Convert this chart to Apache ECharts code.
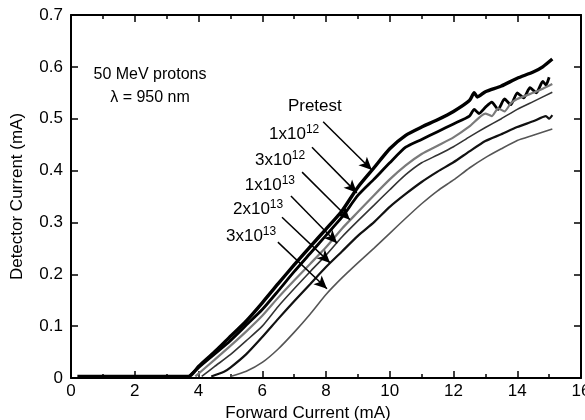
<!DOCTYPE html>
<html>
<head>
<meta charset="utf-8">
<script src="https://cdn.jsdelivr.net/npm/echarts@6/dist/echarts.min.js"></script>
<style>
html,body{margin:0;padding:0;background:#fff;}
#chart{width:585px;height:420px;}
</style>
</head>
<body>
<div id="chart"></div>
<script>
// curves: [forward current mA, detector current mA]
var pretest = [[0.2,0.003],[1,0.003],[2,0.003],[3,0.003],[3.7,0.003],[4.0,0.022],[4.5,0.05],[4.9,0.074],[5.5,0.11],[6.0,0.145],[6.5,0.182],[7.0,0.218],[7.5,0.253],[8.0,0.287],[8.5,0.322],[9.0,0.368],[9.5,0.405],[10.0,0.442],[10.5,0.468],[11.0,0.484],[11.5,0.498],[12.0,0.514],[12.5,0.535],[12.65,0.55],[12.75,0.542],[13.0,0.552],[13.5,0.563],[14.0,0.578],[14.5,0.59],[14.8,0.6],[15.1,0.615]];
var e12a = [[3.7,0.003],[4.0,0.02],[4.5,0.046],[5.0,0.072],[5.5,0.102],[6.0,0.132],[6.5,0.168],[7.0,0.205],[7.5,0.24],[8.0,0.275],[8.5,0.31],[9.0,0.352],[9.5,0.383],[10.0,0.415],[10.5,0.445],[11.0,0.46],[11.5,0.475],[12.0,0.49],[12.5,0.505],[12.65,0.518],[12.8,0.51],[13.0,0.522],[13.2,0.532],[13.4,0.518],[13.6,0.538],[13.8,0.527],[14.0,0.55],[14.2,0.54],[14.4,0.56],[14.6,0.55],[14.8,0.572],[14.9,0.565],[15.0,0.58]];
var e12b = [[3.9,0.003],[4.5,0.035],[5.0,0.062],[5.5,0.09],[6.0,0.12],[6.5,0.155],[7.0,0.188],[7.5,0.22],[8.0,0.252],[8.5,0.288],[9.0,0.32],[9.5,0.352],[10.0,0.383],[10.5,0.41],[11.0,0.432],[11.5,0.448],[12.0,0.464],[12.5,0.485],[13.0,0.51],[13.2,0.505],[13.4,0.52],[13.6,0.514],[13.8,0.53],[14.0,0.538],[14.5,0.55],[14.8,0.558],[15.1,0.567]];
var e13a = [[4.1,0.003],[4.5,0.022],[5.0,0.045],[5.5,0.072],[6.0,0.1],[6.5,0.138],[7.0,0.172],[7.5,0.205],[8.0,0.237],[8.5,0.272],[9.0,0.303],[9.5,0.333],[10.0,0.363],[10.5,0.392],[11.0,0.415],[11.5,0.43],[12.0,0.446],[12.5,0.465],[13.0,0.483],[13.5,0.5],[14.0,0.518],[14.5,0.533],[15.1,0.551]];
var e13b = [[4.4,0.003],[4.8,0.012],[5.0,0.02],[5.5,0.046],[6.0,0.079],[6.5,0.114],[7.0,0.148],[7.5,0.181],[8.0,0.214],[8.5,0.244],[9.0,0.274],[9.5,0.3],[10.0,0.33],[10.5,0.355],[11.0,0.378],[11.5,0.398],[12.0,0.416],[12.5,0.437],[13.0,0.457],[13.5,0.47],[14.0,0.484],[14.5,0.495],[14.9,0.505],[15.0,0.5],[15.1,0.507]];
var e13c = [[5.0,0.003],[5.5,0.013],[6.0,0.03],[6.5,0.056],[7.0,0.088],[7.5,0.123],[8.0,0.161],[8.5,0.193],[9.0,0.222],[9.5,0.25],[10.0,0.279],[10.5,0.308],[11.0,0.336],[11.5,0.361],[12.0,0.382],[12.5,0.405],[13.0,0.425],[13.5,0.442],[14.0,0.458],[14.5,0.468],[15.1,0.48]];

var labels = ['Pretest', '1x10{s|12}', '3x10{s|12}', '1x10{s|13}', '2x10{s|13}', '3x10{s|13}'];
// arrow start / tip and label centre, in data units
var arrowFrom = [[7.91,0.494],[7.56,0.445],[7.25,0.397],[6.9,0.351],[6.62,0.31],[6.49,0.262]];
var arrowTo = [[9.44,0.401],[8.97,0.357],[8.75,0.305],[8.35,0.26],[8.13,0.222],[8.03,0.172]];
var labelAt = [[7.65,0.524],[7.0,0.47],[6.56,0.42],[6.24,0.371],[5.87,0.325],[5.65,0.273]];

var myChart = echarts.init(document.getElementById('chart'));
var font = 'Liberation Sans, Arial, Helvetica, sans-serif';

var axisBase = {
    axisLine: {show: true, onZero: false, lineStyle: {color: '#000', width: 2}},
    axisTick: {show: true, inside: true, length: 7, lineStyle: {color: '#000', width: 1.5}},
    splitLine: {show: false}
};

function line(name, data, color, width) {
    return {
        name: name, type: 'line', data: data, symbol: 'none', smooth: 0.2,
        lineStyle: {color: color, width: width}, z: 3
    };
}

var arrows = [];
for (var i = 0; i < arrowFrom.length; i++) {
    arrows.push([{coord: arrowFrom[i]}, {coord: arrowTo[i]}]);
}

var option = {
    animation: false,
    backgroundColor: '#fff',
    textStyle: {fontFamily: font},
    grid: {left: 71, right: 4, top: 15, bottom: 42, containLabel: false, outerBoundsMode: 'none'},
    xAxis: [
        Object.assign({}, axisBase, {
            type: 'value', min: 0, max: 16, interval: 2, position: 'bottom',
            minorTick: {show: true, splitNumber: 2, length: 4, lineStyle: {color: '#000', width: 1.5}},
            axisLabel: {color: '#000', fontSize: 17, margin: 5, fontFamily: font},
            name: 'Forward Current (mA)', nameLocation: 'middle', nameGap: 26,
            nameTextStyle: {color: '#000', fontSize: 17, fontFamily: font, padding: [0, 36, 0, 0]}
        }),
        Object.assign({}, axisBase, {
            type: 'value', min: 0, max: 16, interval: 2, position: 'top',
            minorTick: {show: true, splitNumber: 2, length: 4, lineStyle: {color: '#000', width: 1.5}},
            axisLabel: {show: false}
        })
    ],
    yAxis: [
        Object.assign({}, axisBase, {
            type: 'value', min: 0, max: 0.7, interval: 0.1, position: 'left',
            axisLabel: {color: '#000', fontSize: 17, margin: 8, fontFamily: font,
                formatter: function (v) { return v === 0 ? '0' : v.toFixed(1); }},
            name: 'Detector Current (mA)', nameLocation: 'middle', nameGap: 45,
            nameTextStyle: {color: '#000', fontSize: 17, fontFamily: font}
        }),
        Object.assign({}, axisBase, {
            type: 'value', min: 0, max: 0.7, interval: 0.1, position: 'right',
            axisLabel: {show: false}
        })
    ],
    series: [
        line('Pretest', pretest, '#000', 3.4),
        line('1x10^12', e12a, '#000', 2.8),
        line('3x10^12', e12b, '#7a7a7a', 2.2),
        line('1x10^13', e13a, '#333', 1.6),
        line('2x10^13', e13b, '#111', 2.2),
        line('3x10^13', e13c, '#555', 1.6),
        {
            type: 'line', data: [], symbol: 'none', silent: true,
            markLine: {
                silent: true, symbol: ['none', 'arrow'], symbolSize: [9, 13],
                label: {show: false},
                lineStyle: {color: '#000', width: 1.5, type: 'solid'},
                data: arrows
            }
        }
    ]
};

myChart.setOption(option);

// annotation texts, placed through the chart's own scales
var texts = [
    {type: 'text', x: 150, y: 75, style: {text: '50 MeV protons', font: '16px ' + font, fill: '#000', align: 'center', verticalAlign: 'middle'}},
    {type: 'text', x: 150, y: 98, style: {text: 'λ = 950 nm', font: '16px ' + font, fill: '#000', align: 'center', verticalAlign: 'middle'}}
];
labelAt.forEach(function (p, k) {
    var px = myChart.convertToPixel({xAxisIndex: 0, yAxisIndex: 0}, p);
    texts.push({
        type: 'text', x: px[0], y: px[1], z: 10,
        style: {
            text: labels[k], fill: '#000', font: '17px ' + font,
            align: 'center', verticalAlign: 'middle',
            rich: {s: {font: '12px ' + font, fill: '#000', verticalAlign: 'top', padding: [0, 0, 9, 0]}}
        }
    });
});
myChart.setOption({graphic: texts});
</script>
</body>
</html>
